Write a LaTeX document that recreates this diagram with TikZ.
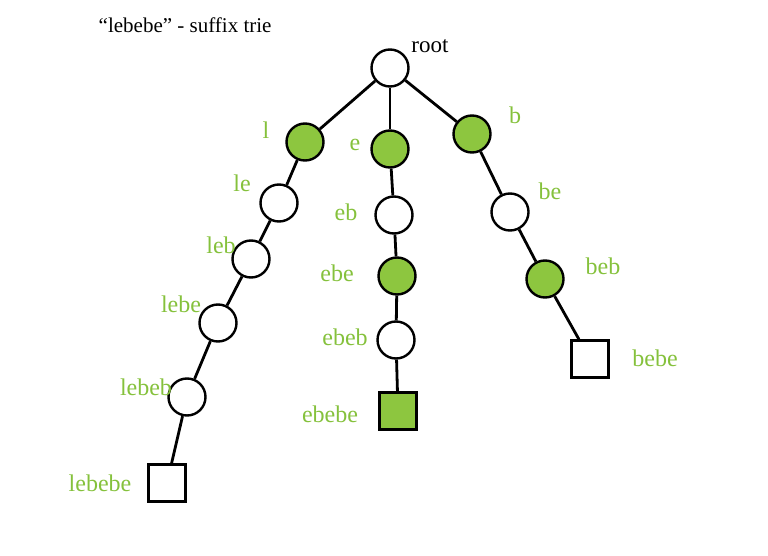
\documentclass[tikz,border=0pt]{standalone}
\usepackage{fontspec}
\setmainfont{Liberation Serif}
\definecolor{leaf}{RGB}{141,198,63}
\definecolor{labelgreen}{RGB}{133,193,60}
\begin{document}
\begin{tikzpicture}[x=1pt,y=-1pt,line width=2.8pt]
        \useasboundingbox (0,0) rectangle (768,556);
        \begin{scope}[every node/.style={circle,line width=2.4pt,draw,fill=white,
                        inner sep=0pt, minimum size=37pt}]
            \node (root) at (390,68) {};
            \node (l) at (305,142) [fill=leaf]{};
            \node (e) at (390,149) [fill=leaf]{};
            \node (b) at (472,134) [fill=leaf]{};
            \node (le) at (279,203) {};
            \node (eb) at (394,215) {};
            \node (be) at (510,212) {};
            \node (leb) at (251,259) {};
            \node (ebe) at (397,276) [fill=leaf]{};
            \node (beb) at (545,279) [fill=leaf]{};
            \node (lebe) at (218,323) {};
            \node (ebeb) at (396,340) {};
            \node (lebeb) at (187,397) {};
            \node (bebe) at (590,359) [rectangle,minimum size=37pt]{};
            \node (ebebe) at (398,411) [rectangle,minimum size=37pt,fill=leaf]{};
            \node (lebebe) at (167,483) [rectangle,minimum size=37pt]{};
        \end{scope}

        \begin{scope}[every node/.style={text=labelgreen,font=\fontsize{24}{28}\selectfont}]
            \node (tl) at (266,130) {l};
            \node (te) at (355,145) {e};
            \node (tb) at (515,115) {b};
            \node (tle) at (242,183) {le};
            \node (teb) at (346,212) {eb};
            \node (tbe) at (550,191) {be};
            \node (tleb) at (221,245) {leb};
            \node (tebe) at (337,273) {ebe};
            \node (tbeb) at (603,266) {beb};
            \node (tlebe) at (181,304) {lebe};
            \node (tebeb) at (345,337) {ebeb};
            \node (tbebe) at (655,358) {bebe};
            \node (tlebeb) at (146,387) {lebeb};
            \node (tebebe) at (330,414) {ebebe};
            \node (tlebebe) at (100,483) {lebebe};
        \end{scope}
        \node (troot) at (430,46) [font=\fontsize{23}{26}\selectfont] {root};
        \node (title) at (94,25) [anchor=west,font=\fontsize{21}{24}\selectfont] {“lebebe” - suffix trie};

        \path (root) edge (l);
        \path (root) edge (e);
        \path (root) edge (b);
        \path (l) edge (le);
        \path (le) edge (leb);
        \path (leb) edge (lebe);
        \path (lebe) edge (lebeb);
        \path (lebeb) edge (lebebe);
        \path (e) edge (eb);
        \path (eb) edge (ebe);
        \path (ebe) edge (ebeb);
        \path (ebeb) edge (ebebe);
        \path (b) edge (be);
        \path (be) edge (beb);
        \path (beb) edge (bebe);
    \end{tikzpicture}
\end{document}
